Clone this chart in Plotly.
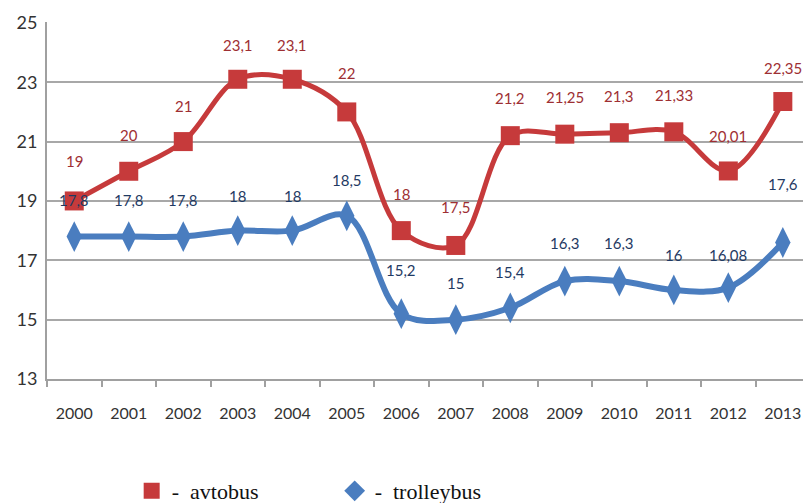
import plotly.graph_objects as go

years = ["2000", "2001", "2002", "2003", "2004", "2005", "2006",
         "2007", "2008", "2009", "2010", "2011", "2012", "2013"]
avtobus = [19, 20, 21, 23.1, 23.1, 22, 18, 17.5, 21.2, 21.25, 21.3, 21.33, 20.01, 22.35]
trolleybus = [17.8, 17.8, 17.8, 18, 18, 18.5, 15.2, 15, 15.4, 16.3, 16.3, 16, 16.08, 17.6]
avtobus_labels = ["19", "20", "21", "23,1", "23,1", "22", "18", "17,5", "21,2",
                  "21,25", "21,3", "21,33", "20,01", "22,35"]
trolleybus_labels = ["17,8", "17,8", "17,8", "18", "18", "18,5", "15,2", "15", "15,4",
                     "16,3", "16,3", "16", "16,08", "17,6"]
y_ticks = [13, 15, 17, 19, 21, 23, 25]
# label offsets above points (pixels)
avtobus_shift = [40, 36, 36, 34, 34, 39, 37, 38, 38, 37, 37, 37, 35, 34]
trolleybus_shift = [37, 37, 37, 35, 35, 36, 44, 37, 36, 38, 38, 35, 33, 58]

pos = list(range(len(years)))
bounds = [p - 0.5 for p in pos] + [pos[-1] + 0.5]

RED = "#c63a3b"
BLUE = "#4a7dbf"
RED_TXT = "#9e2f33"
BLUE_TXT = "#1f3a63"
NARROW = "Liberation Sans Narrow, Lato, sans-serif"

W, H = 803, 503
ML, MT, MB = 47, 22, 124
plot_h = H - MT - MB
legend_y_px = 491  # vertical centre of legend row, from top

fig = go.Figure()
fig.add_trace(go.Scatter(
    x=pos, y=avtobus, mode="lines+markers", showlegend=False,
    line=dict(color=RED, width=5, shape="spline", smoothing=1),
    marker=dict(symbol="square", size=19, color=RED),
))
fig.add_trace(go.Scatter(
    x=pos, y=trolleybus, mode="lines+markers", showlegend=False,
    line=dict(color=BLUE, width=6, shape="spline", smoothing=1),
    marker=dict(symbol="diamond-tall", size=22, color=BLUE),
))
# legend-only entries
fig.add_trace(go.Scatter(
    x=[None], y=[None], mode="markers", name="-\u00a0\u00a0avtobus",
    marker=dict(symbol="square", size=16, color=RED),
))
fig.add_trace(go.Scatter(
    x=[None], y=[None], mode="markers", name="-\u00a0\u00a0trolleybus",
    marker=dict(symbol="diamond", size=16, color=BLUE),
))

for p, v, t, s in zip(pos, avtobus, avtobus_labels, avtobus_shift):
    fig.add_annotation(x=p, y=v, xref="x", yref="y", text=t, showarrow=False, yshift=s,
                       font=dict(family=NARROW, size=15, color=RED_TXT))
for p, v, t, s in zip(pos, trolleybus, trolleybus_labels, trolleybus_shift):
    fig.add_annotation(x=p, y=v, xref="x", yref="y", text=t, showarrow=False, yshift=s,
                       font=dict(family=NARROW, size=15, color=BLUE_TXT))

fig.update_layout(
    width=W, height=H,
    margin=dict(l=ML, r=0, t=MT, b=MB, autoexpand=False),
    paper_bgcolor="white", plot_bgcolor="white",
    showlegend=True,
    legend=dict(
        orientation="h", x=0.112, y=-(legend_y_px - (H - MB)) / plot_h,
        xanchor="left", yanchor="middle",
        font=dict(family="Liberation Serif, Times New Roman, serif", size=22, color="#111"),
        entrywidth=158, entrywidthmode="pixels", bgcolor="rgba(0,0,0,0)",
    ),
    xaxis=dict(
        range=[-0.5, 13.37], automargin=False,
        tickvals=pos, ticktext=years, ticks="",
        showgrid=False, zeroline=False,
        showline=True, linecolor="#a0a0a0", linewidth=2,
        minor=dict(tickvals=bounds, ticks="outside", ticklen=6,
                   tickcolor="#a0a0a0", tickwidth=2, showgrid=False),
        tickfont=dict(family=NARROW, size=16, color="#333"),
        ticklabelstandoff=19,
    ),
    yaxis=dict(
        range=[13, 25.03], tickvals=y_ticks, automargin=False,
        showgrid=True, gridcolor="#a8a8a8", gridwidth=2,
        showline=True, linecolor="#a0a0a0", linewidth=2,
        zeroline=False,
        tickfont=dict(family=NARROW, size=18, color="#333"),
        ticks="", ticklabelstandoff=4,
    ),
)

fig.write_html(
    "out.html",
    config={"displayModeBar": False},
    post_script="document.body.style.margin='0';document.body.style.overflow='hidden';",
)
